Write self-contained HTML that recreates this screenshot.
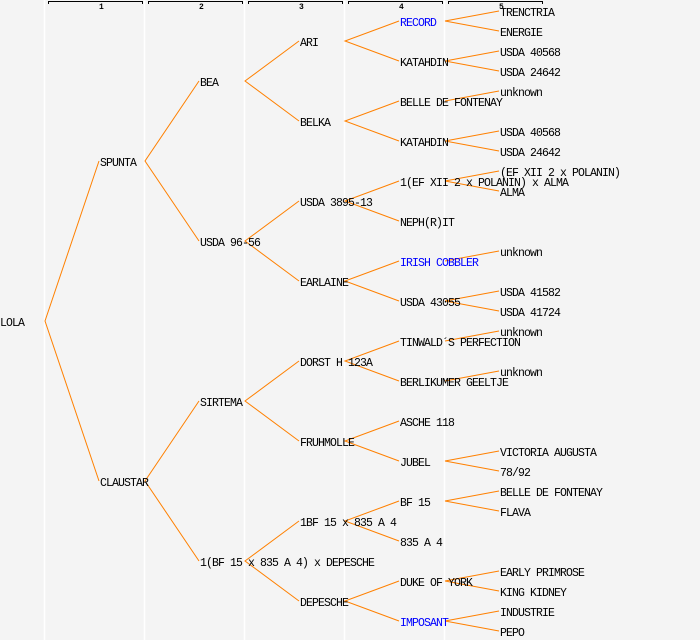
<!DOCTYPE html>
<html><head><meta charset="utf-8"><style>
html,body{margin:0;padding:0;background:#f4f4f4;}
svg{display:block}
text{font-family:"Liberation Mono",monospace;font-size:11.5px;letter-spacing:-0.9px;fill:#000}
.b{fill:#0000ff}
.h{font-size:8px;letter-spacing:0;font-weight:bold}
</style></head><body>
<svg width="700" height="640" viewBox="0 0 700 640" xmlns="http://www.w3.org/2000/svg">
<rect width="700" height="640" fill="#f4f4f4"/>
<g stroke="#ffffff" stroke-width="1.5">
<line x1="44.5" y1="0" x2="44.5" y2="640"/><line x1="144.5" y1="0" x2="144.5" y2="640"/><line x1="244.5" y1="0" x2="244.5" y2="640"/><line x1="344.5" y1="0" x2="344.5" y2="640"/><line x1="444.5" y1="0" x2="444.5" y2="640"/>
</g>
<g stroke="#000" stroke-width="1" fill="none">
<path d="M48.5 4V1.5H142.5V4"/><path d="M148.5 4V1.5H242.5V4"/><path d="M248.5 4V1.5H342.5V4"/><path d="M348.5 4V1.5H442.5V4"/><path d="M448.5 4V1.5H542.5V4"/>
</g>
<g><text class="h" x="99" y="9">1</text><text class="h" x="199" y="9">2</text><text class="h" x="299" y="9">3</text><text class="h" x="399" y="9">4</text><text class="h" x="499" y="9">5</text></g>
<g stroke="#ff8000" stroke-width="1" fill="none">
<path d="M99 161L45 321L99 481"/>
<path d="M199 81L145 161L199 241"/><path d="M199 401L145 481L199 561"/>
<path d="M299 41L245 81L299 121"/><path d="M299 201L245 241L299 281"/><path d="M299 361L245 401L299 441"/><path d="M299 521L245 561L299 601"/>
<path d="M399 21L345 41L399 61"/><path d="M399 101L345 121L399 141"/><path d="M399 181L345 201L399 221"/><path d="M399 261L345 281L399 301"/>
<path d="M399 341L345 361L399 381"/><path d="M399 421L345 441L399 461"/><path d="M399 501L345 521L399 541"/><path d="M399 581L345 601L399 621"/>
<path d="M499 11L445 21L499 31"/><path d="M499 51L445 61L499 71"/><path d="M445 101L499 91"/><path d="M499 131L445 141L499 151"/>
<path d="M499 171L445 181L499 191"/><path d="M445 261L499 251"/><path d="M499 291L445 301L499 311"/><path d="M445 341L499 331"/>
<path d="M445 381L499 371"/><path d="M499 451L445 461L499 471"/><path d="M499 491L445 501L499 511"/><path d="M499 571L445 581L499 591"/><path d="M499 611L445 621L499 631"/>
</g>
<text x="0" y="326">LOLA</text>
<text x="100" y="166">SPUNTA</text><text x="100" y="486">CLAUSTAR</text>
<text x="200" y="86">BEA</text><text x="200" y="246">USDA 96-56</text><text x="200" y="406">SIRTEMA</text><text x="200" y="566">1(BF 15 x 835 A 4) x DEPESCHE</text>
<text x="300" y="46">ARI</text><text x="300" y="126">BELKA</text><text x="300" y="206">USDA 3895-13</text><text x="300" y="286">EARLAINE</text>
<text x="300" y="366">DORST H 123A</text><text x="300" y="446">FRUHMOLLE</text><text x="300" y="526">1BF 15 x 835 A 4</text><text x="300" y="606">DEPESCHE</text>
<text x="400" y="26" class="b">RECORD</text><text x="400" y="66">KATAHDIN</text><text x="400" y="106">BELLE DE FONTENAY</text><text x="400" y="146">KATAHDIN</text>
<text x="400" y="186">1(EF XII 2 x POLANIN) x ALMA</text><text x="400" y="226">NEPH(R)IT</text><text x="400" y="266" class="b">IRISH COBBLER</text><text x="400" y="306">USDA 43055</text>
<text x="400" y="346">TINWALD´S PERFECTION</text><text x="400" y="386">BERLIKUMER GEELTJE</text><text x="400" y="426">ASCHE 118</text><text x="400" y="466">JUBEL</text>
<text x="400" y="506">BF 15</text><text x="400" y="546">835 A 4</text><text x="400" y="586">DUKE OF YORK</text><text x="400" y="626" class="b">IMPOSANT</text>
<text x="500" y="16">TRENCTRIA</text><text x="500" y="36">ENERGIE</text><text x="500" y="56">USDA 40568</text><text x="500" y="76">USDA 24642</text>
<text x="500" y="96">unknown</text><text x="500" y="136">USDA 40568</text><text x="500" y="156">USDA 24642</text>
<text x="500" y="176">(EF XII 2 x POLANIN)</text><text x="500" y="196">ALMA</text>
<text x="500" y="256">unknown</text><text x="500" y="296">USDA 41582</text><text x="500" y="316">USDA 41724</text>
<text x="500" y="336">unknown</text><text x="500" y="376">unknown</text>
<text x="500" y="456">VICTORIA AUGUSTA</text><text x="500" y="476">78/92</text>
<text x="500" y="496">BELLE DE FONTENAY</text><text x="500" y="516">FLAVA</text>
<text x="500" y="576">EARLY PRIMROSE</text><text x="500" y="596">KING KIDNEY</text>
<text x="500" y="616">INDUSTRIE</text><text x="500" y="636">PEPO</text>
</svg>
</body></html>
